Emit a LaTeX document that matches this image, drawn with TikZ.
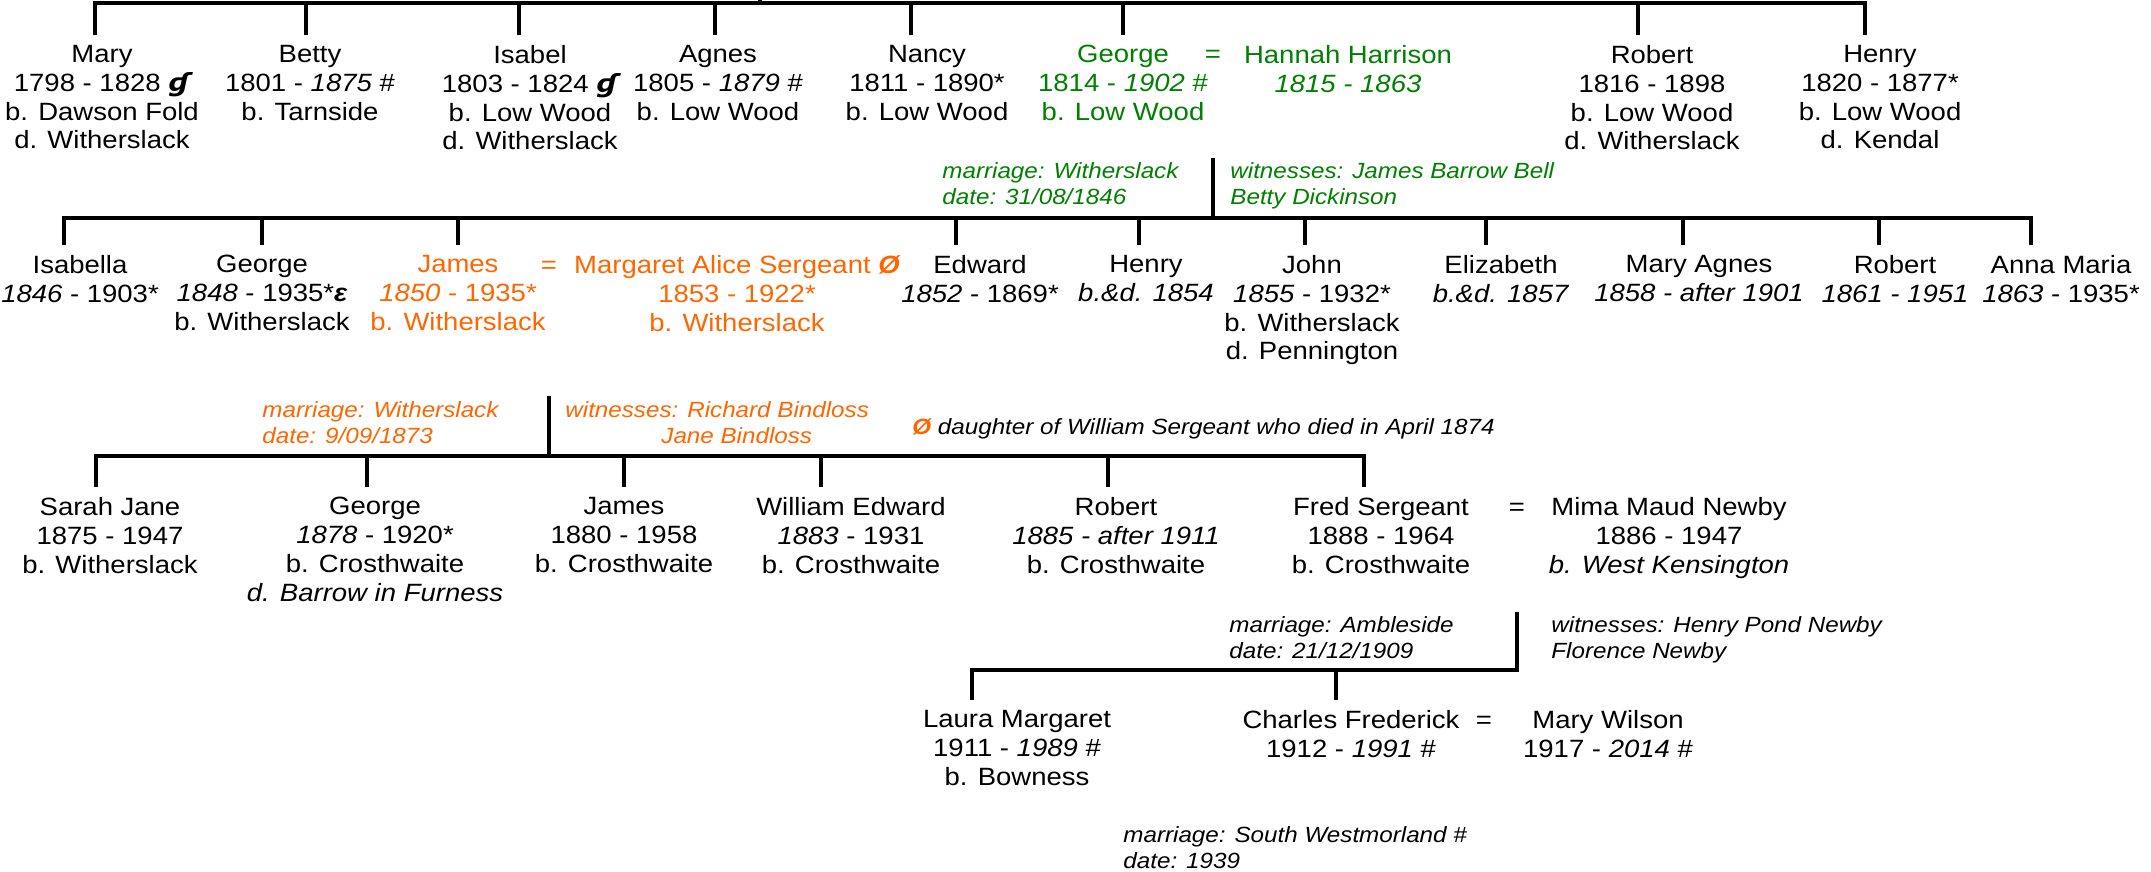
\documentclass[tikz,border=0pt]{standalone}
\usepackage{fontspec}
\setmainfont{Liberation Sans}[FakeStretch=1.1]
\newfontfamily\dvfont{DejaVu Sans}[FakeStretch=1.1]
\usetikzlibrary{positioning}

\definecolor{famgreen}{RGB}{0,128,0}
\definecolor{famorange}{RGB}{255,102,0}

\newcommand{\gmark}{{\dvfont\bfseries\itshape ɠ}}
\newcommand{\emark}{{\bfseries\itshape ε}}
\newcommand{\omark}{{\color{famorange}\bfseries\itshape Ø}}

\tikzset{
  person/.style={anchor=north, align=center, inner sep=0pt,
    font=\fontsize{12.5}{14.4}\selectfont},
  eqsign/.style={anchor=base, inner sep=0pt,
    font=\fontsize{12.5}{14.4}\selectfont},
  remark/.style={anchor=north west, align=left, inner sep=0pt,
    font=\fontsize{11}{13.25}\selectfont\itshape},
  bar/.style={line width=2pt},
  stub/.style={line width=2pt, shorten >=5pt}
}

\begin{document}
\begin{tikzpicture}[x=0.5pt, y=-0.5pt]

\useasboundingbox (0,0) rectangle (2151,872);

\node[person] (mary1) at (102,45) {Mary\\1798 - 1828 \gmark\\b. Dawson Fold\\d. Witherslack};
\node[person] (betty1) at (310,45) {Betty\\1801 - \textit{1875} \#\\b. Tarnside};
\node[person] (isabel1) at (530,45) {Isabel\\1803 - 1824 \gmark\\b. Low Wood\\d. Witherslack};
\node[person] (agnes1) at (718,45) {Agnes\\1805 - \textit{1879} \#\\b. Low Wood};
\node[person] (nancy1) at (927,45) {Nancy\\1811 - 1890*\\b. Low Wood};
\node[person,
    text=famgreen
] (george1) at (1123,45) {George\\1814 - \textit{1902} \#\\b. Low Wood};
\node[eqsign,
    text=famgreen
] (eq1) at (1213,63) {=};
\node[person,
    text=famgreen
] (hannah1) at (1348,45) {Hannah Harrison\\\textit{1815 - 1863}};
\node[person] (robert1) at (1652,45) {Robert\\1816 - 1898\\b. Low Wood\\d. Witherslack};
\node[person] (henry1) at (1880,45) {Henry\\1820 - 1877*\\b. Low Wood\\d. Kendal};

\node[person] (isabella2) at (80,255) {Isabella\\\textit{1846} - 1903*};
\node[person] (george2) at (262,255) {George\\\textit{1848} - 1935*\emark\\b. Witherslack};
\node[person,
    text=famorange
] (james2) at (458,255) {James\\\textit{1850} - 1935*\\b. Witherslack};
\node[eqsign,
    text=famorange
] (eq2) at (549,273) {=};
\node[person,
    text=famorange
] (margaret2) at (737,255) {Margaret Alice Sergeant \omark\\1853 - 1922*\\b. Witherslack};
\node[person] (edward2) at (980,255) {Edward\\\textit{1852} - 1869*};
\node[person] (henry2) at (1146,255) {Henry\\\textit{b.\&d. 1854}};
\node[person] (john2) at (1312,255) {John\\\textit{1855} - 1932*\\b. Witherslack\\d. Pennington};
\node[person] (elizabeth2) at (1501,255) {Elizabeth\\\textit{b.\&d. 1857}};
\node[person] (maryagnes2) at (1699,255) {Mary Agnes\\\textit{1858 - after 1901}};
\node[person] (robert2) at (1895,255) {Robert\\\textit{1861 - 1951}};
\node[person] (anna2) at (2061,255) {Anna Maria\\\textit{1863} - 1935*};

\node[person] (sarah3) at (110,497) {Sarah Jane\\1875 - 1947\\b. Witherslack};
\node[person] (george3) at (375,497) {George\\\textit{1878} - 1920*\\b. Crosthwaite\\\textit{d. Barrow in Furness}};
\node[person] (james3) at (624,497) {James\\1880 - 1958\\b. Crosthwaite};
\node[person] (william3) at (851,497) {William Edward\\\textit{1883} - 1931\\b. Crosthwaite};
\node[person] (robert3) at (1116,497) {Robert\\\textit{1885 - after 1911}\\b. Crosthwaite};
\node[person] (fred3) at (1381,497) {Fred Sergeant\\1888 - 1964\\b. Crosthwaite};
\node[eqsign] (eq3) at (1517,515) {=};
\node[person] (mima3) at (1669,497) {Mima Maud Newby\\1886 - 1947\\\textit{b. West Kensington}};

\node[person] (laura4) at (1017,710) {Laura Margaret\\1911 - \textit{1989} \#\\b. Bowness};
\node[person] (charles4) at (1351,710) {Charles Frederick\\1912 - \textit{1991} \#};
\node[eqsign] (eq4) at (1484,728) {=};
\node[person] (marywilson4) at (1608,710) {Mary Wilson\\1917 - \textit{2014} \#};

\node[remark, text=famgreen] (wed1date) at (942,162) {marriage: Witherslack\\date: 31/08/1846};
\node[remark, text=famgreen] (wed1wit) at (1230,162) {witnesses: James Barrow Bell\\Betty Dickinson};
\node[remark, text=famorange] (wed2date) at (262,401) {marriage: Witherslack\\date: 9/09/1873};
\node[remark, text=famorange] (wed2wit) at (565,401) {witnesses: Richard Bindloss\\\hspace*{48pt}Jane Bindloss};
\node[remark, anchor=base west] (footnote) at (912,434) {\omark{} daughter of William Sergeant who died in April 1874};
\node[remark] (wed3date) at (1229,616) {marriage: Ambleside\\date: 21/12/1909};
\node[remark] (wed3wit) at (1551,616) {witnesses: Henry Pond Newby\\Florence Newby};
\node[remark] (wed4date) at (1123,826) {marriage: South Westmorland \#\\date: 1939};

\coordinate (par1) at (760,-10);
\coordinate (bar1) at (760,3);
\draw[bar] (par1) -- (bar1);
\draw[bar] ([xshift=-3.5pt, yshift=5pt]mary1.north) |- (bar1) -| ([xshift=-7.5pt, yshift=5pt]henry1.north);
\foreach \k/\o in {betty1/-4, isabel1/-11, agnes1/-3, nancy1/-16, george1/0, robert1/-14}
  \draw[stub] ([xshift=\o*0.5pt]\k.north |- bar1) -- ([xshift=\o*0.5pt]\k.north);

\coordinate (wed1) at (eq1 |- 0,158);
\coordinate (bar2) at (eq1 |- 0,218);
\draw[bar] (wed1) -- (bar2);
\draw[bar] ([xshift=-8pt, yshift=5pt]isabella2.north) |- (bar2) -| ([xshift=-15pt, yshift=5pt]anna2.north);
\foreach \k/\o in {george2/0, james2/0, edward2/-24, henry2/-7, john2/-7, elizabeth2/-15, maryagnes2/-16, robert2/-16}
  \draw[stub] ([xshift=\o*0.5pt]\k.north |- bar2) -- ([xshift=\o*0.5pt]\k.north);

\coordinate (wed2) at (eq2 |- 0,396);
\coordinate (bar3) at (eq2 |- 0,456);
\draw[bar] (wed2) -- (bar3);
\draw[bar] ([xshift=-7pt, yshift=5pt]sarah3.north) |- (bar3) -| ([xshift=-8.5pt, yshift=5pt]fred3.north);
\foreach \k/\o in {george3/-8, james3/0, william3/-30, robert3/-8}
  \draw[stub] ([xshift=\o*0.5pt]\k.north |- bar3) -- ([xshift=\o*0.5pt]\k.north);

\coordinate (wed3) at (eq3 |- 0,612);
\coordinate (bar4) at (eq3 |- 0,670);
\draw[bar] (wed3) -- (bar4) -| ([xshift=-22.5pt, yshift=5pt]laura4.north);
\draw[stub] ([xshift=-7.5pt]charles4.north |- bar4) -- ([xshift=-7.5pt]charles4.north);

\end{tikzpicture}
\end{document}
